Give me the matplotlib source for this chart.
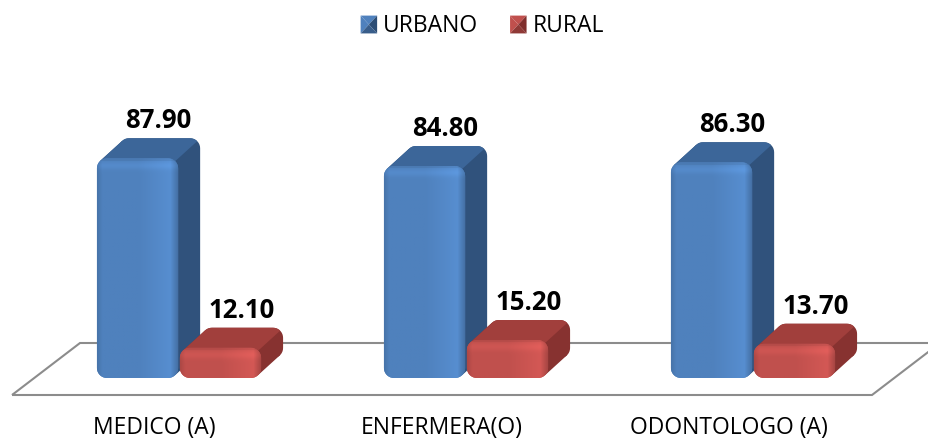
import numpy as np
import matplotlib
matplotlib.use("Agg")
import matplotlib.pyplot as plt
from matplotlib.patches import Polygon, Patch
from matplotlib.colors import to_rgb

plt.rcParams['font.family'] = ['Open Sans', 'DejaVu Sans']

categories = ['MEDICO (A)', 'ENFERMERA(O)', 'ODONTOLOGO (A)']
urbano = [87.90, 84.80, 86.30]
rural = [12.10, 15.20, 13.70]
series_names = ['URBANO', 'RURAL']

# look of the pseudo-3D bars
front_col = {'URBANO': '#4f81bd', 'RURAL': '#c0504d'}
top_col = {'URBANO': '#3c6699', 'RURAL': '#a13f3c'}
side_col = {'URBANO': '#30527c', 'RURAL': '#873230'}

XPX, YPX = 287.0, 2.5          # pixels per x unit / per value unit
bar_w = 0.283
gap = 0.006
dx, dy = 22 / XPX, 20 / YPX    # depth offset of the bars
rx, ry = 10 / XPX, 10 / YPX    # corner rounding

fig = plt.figure(figsize=(9.29, 4.41), dpi=100)
ax = fig.add_axes([0, 0, 1, 1])
ax.axis('off')
xlim = (-179 / XPX, (929 - 179) / XPX)
ylim = (-63 / YPX, 378 / YPX)


def corner(cx, cy, a0, a1, n=10):
    t = np.radians(np.linspace(a0, a1, n))
    return list(zip(cx + rx * np.cos(t), cy + ry * np.sin(t)))


def rrect(x0, y0, x1, y1):
    pts = []
    pts += corner(x1 - rx, y1 - ry, 0, 90)
    pts += corner(x0 + rx, y1 - ry, 90, 180)
    pts += corner(x0 + rx, y0 + ry, 180, 270)
    pts += corner(x1 - rx, y0 + ry, 270, 360)
    return pts


def shade(base, width_px, height_px):
    # horizontal sheen plus a soft bevel near the top edge
    c = np.array(to_rgb(base))
    u = np.linspace(0, 1, max(int(width_px), 2))
    fx = np.interp(u, [0, 0.06, 0.5, 0.82, 0.9, 0.96, 1.0],
                   [0.9, 1.0, 1.0, 1.08, 1.1, 0.95, 0.85])
    v = np.arange(max(int(height_px), 2))
    fy = 1 + 0.07 * np.exp(-((v - 7) / 4.0) ** 2) - 0.06 * (v < 3)
    f = fy[:, None] * fx[None, :]
    return np.clip(c[None, None, :] * f[:, :, None], 0, 1)


def bar3d(x0, val, name):
    x1 = x0 + bar_w
    # back body and side
    back = Polygon(rrect(x0 + dx, dy, x1 + dx, val + dy), closed=True,
                   facecolor=side_col[name], edgecolor='none', zorder=3)
    ax.add_patch(back)
    tl = corner(x0 + rx, val - ry, 135, 135, 1)[0]
    br = corner(x1 - rx, ry, 315, 315, 1)[0]
    quad = [tl, (tl[0] + dx, tl[1] + dy), (br[0] + dx, br[1] + dy), br]
    ax.add_patch(Polygon(quad, closed=True, facecolor=side_col[name],
                         edgecolor='none', zorder=3))
    # top face
    top = (corner(x0 + rx, val - ry, 135, 90, 6) + corner(x1 - rx, val - ry, 90, 45, 6)
           + corner(x1 - rx + dx, val - ry + dy, 45, 90, 6)
           + corner(x0 + rx + dx, val - ry + dy, 90, 135, 6))
    ax.add_patch(Polygon(top, closed=True, facecolor=top_col[name],
                         edgecolor='none', zorder=4))
    # front face with a gradient clipped to its outline
    front = Polygon(rrect(x0, 0, x1, val), closed=True, facecolor=front_col[name],
                    edgecolor='none', zorder=5)
    ax.add_patch(front)
    img = shade(front_col[name], bar_w * XPX, val * YPX)
    im = ax.imshow(img, extent=(x0, x1, 0, val), origin='upper', aspect='auto',
                   zorder=6, interpolation='bilinear')
    im.set_clip_path(front)


# floor plane
floor = [(-167 / XPX, -17 / YPX), (693 / XPX, -17 / YPX),
         (761 / XPX, 35 / YPX), (-99 / XPX, 35 / YPX)]
ax.add_patch(Polygon(floor, closed=True, facecolor='none', edgecolor='#8c8c8c',
                     lw=1.5, zorder=1))

for i, cat in enumerate(categories):
    for name, vals, x0 in (('URBANO', urbano, i - bar_w - gap / 2),
                           ('RURAL', rural, i + gap / 2)):
        bar3d(x0, vals[i], name)
        ax.text(x0 + bar_w / 2 + dx * 0.95, vals[i] + dy + 1.5, '%.2f' % vals[i],
                ha='center', va='bottom', fontsize=18.5, fontweight='bold',
                color='black', zorder=8)
    ax.text(i - 0.085, -20, cat, ha='center', va='center', fontsize=16.5,
            color='black')


class BevelSquare:
    def __init__(self, light, dark, mid):
        self.light, self.dark, self.mid = light, dark, mid

    def legend_artist(self, legend, orig_handle, fontsize, handlebox):
        x0, y0 = -handlebox.xdescent, -handlebox.ydescent
        w, h = handlebox.width, handlebox.height
        cx, cy = x0 + w / 2, y0 + h / 2
        tr = handlebox.get_transform()
        tris = [([(x0, y0 + h), (x0 + w, y0 + h), (cx, cy)], self.light),
                ([(x0, y0), (x0, y0 + h), (cx, cy)], self.light),
                ([(x0 + w, y0), (x0 + w, y0 + h), (cx, cy)], self.dark),
                ([(x0, y0), (x0 + w, y0), (cx, cy)], self.mid)]
        for pts, col in tris:
            handlebox.add_artist(Polygon(pts, closed=True, facecolor=col,
                                         edgecolor='none', transform=tr))
        return handlebox


h_u = Patch(color=front_col['URBANO'])
h_r = Patch(color=front_col['RURAL'])
ax.legend([h_u, h_r], series_names, loc='center', bbox_to_anchor=(0.519, 0.94),
          ncol=2, frameon=False, fontsize=16.5, handlelength=0.72, handleheight=0.82,
          handletextpad=0.25, columnspacing=1.4,
          handler_map={h_u: BevelSquare('#4f81bd', '#2c4d75', '#385d8a'),
                       h_r: BevelSquare('#c0504d', '#7f2e2c', '#8f3936')})

ax.set_xlim(*xlim)
ax.set_ylim(*ylim)
fig.savefig('out.png', dpi=100)
